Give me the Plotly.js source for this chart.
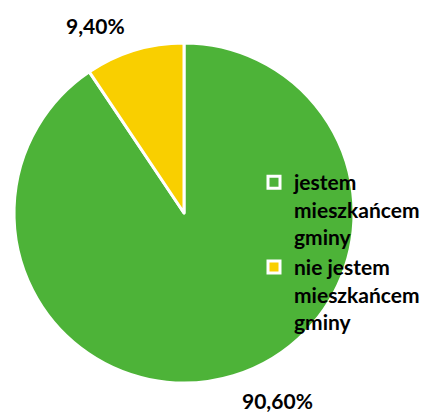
<!DOCTYPE html>
<html><head><meta charset="utf-8">
<script src="https://cdn.plot.ly/plotly-3.0.1.min.js"></script>
<style>html,body{margin:0;padding:0;background:#fff}#chart{width:429px;height:414px}</style>
</head><body><div id="chart"></div>
<script>
const categories = ["jestem mieszkańcem gminy", "nie jestem mieszkańcem gminy"];
const legendLabels = ["jestem<br>mieszkańcem<br>gminy", "nie jestem<br>mieszkańcem<br>gminy"];
const values = [90.6, 9.4];
const colors = ["#4DB338", "#F9CF00"];

const fmt = v => v.toFixed(2).replace('.', ',') + '%';

const trace = {
  type: 'pie',
  labels: legendLabels,
  values: values,
  sort: false,
  direction: 'clockwise',
  rotation: 0,
  marker: {colors: colors, line: {color: '#ffffff', width: 3}},
  textinfo: 'none',
  hoverinfo: 'label+percent',
  domain: {x: [13/429, 355/429], y: [1-383/414, 1-43/414]}
};

const layout = {
  width: 429, height: 414,
  margin: {l: 0, r: 0, t: 0, b: 0},
  paper_bgcolor: '#fff',
  font: {family: 'Lato, "Open Sans", sans-serif', size: 21, color: '#000'},
  showlegend: true,
  legend: {x: 254/429, y: 1-162/414, xanchor: 'left', yanchor: 'top', valign: 'top',
           font: {size: 21, color: '#000', weight: 'bold'}, bgcolor: 'rgba(0,0,0,0)',
           itemwidth: 30},
  annotations: [
    {text: '<b>' + fmt(values[1]) + '</b>', x: 95/429, y: 1-25/414, xref: 'paper', yref: 'paper',
     xanchor: 'center', yanchor: 'middle', showarrow: false, font: {size: 21}},
    {text: '<b>' + fmt(values[0]) + '</b>', x: 277/429, y: 1-400/414, xref: 'paper', yref: 'paper',
     xanchor: 'center', yanchor: 'middle', showarrow: false, font: {size: 21}}
  ]
};

Plotly.newPlot('chart', [trace], layout, {staticPlot: true});
</script></body></html>
